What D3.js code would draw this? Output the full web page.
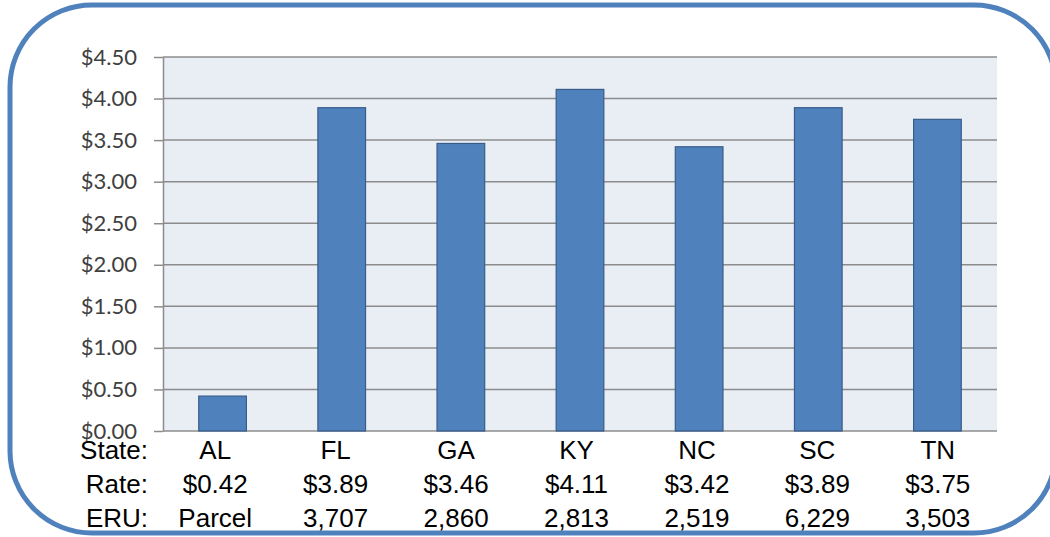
<!DOCTYPE html>
<html><head><meta charset="utf-8">
<script src="https://cdn.jsdelivr.net/npm/d3@7/dist/d3.min.js"></script>
<style>body{margin:0;background:#fff}svg{display:block}</style>
</head><body><svg id="c" width="1050" height="537"></svg>
<script>
const states = ["AL","FL","GA","KY","NC","SC","TN"];
const rates = [0.42,3.89,3.46,4.11,3.42,3.89,3.75];
const rateLabels = ["$0.42","$3.89","$3.46","$4.11","$3.42","$3.89","$3.75"];
const eru = ["Parcel","3,707","2,860","2,813","2,519","6,229","3,503"];
const yTicks = [0,0.5,1,1.5,2,2.5,3,3.5,4,4.5];
const rowLabels = ["State:","Rate:","ERU:"];

const svg = d3.select("#c");
const L=163,R=997,T=57,B=431;
const x = d3.scaleBand().domain(states).range([L,R]).paddingInner(0.6).paddingOuter(0.3);
const xt = d3.scaleBand().domain(states).range([155,998]).padding(0);
const y = d3.scaleLinear().domain([0,4.5]).range([B,T]);

svg.append("rect").attr("x",10).attr("y",5).attr("width",1046).attr("height",528)
  .attr("rx",82).attr("ry",82).attr("fill","#fff").attr("stroke","#4F81BD").attr("stroke-width",5);

svg.append("rect").attr("x",L).attr("y",T).attr("width",R-L).attr("height",B-T).attr("fill","#E9EDF4");

const yAxis = d3.axisLeft(y).tickValues(yTicks).tickSize(9).tickSizeOuter(0).tickPadding(17)
  .tickFormat(d=>"$"+d3.format(".2f")(d));
const g = svg.append("g").attr("transform",`translate(${L},0)`).call(yAxis);
g.select(".domain").attr("stroke","#8c8c8c").attr("stroke-width",1.5);
g.selectAll(".tick line").attr("stroke","#8c8c8c").attr("stroke-width",1.5);
g.selectAll(".tick text").attr("font-family","Lato, 'Open Sans', sans-serif").attr("font-size",22).attr("fill","#404040");

svg.append("g").selectAll("line").data(yTicks).join("line")
  .attr("x1",L).attr("x2",R).attr("y1",d=>y(d)).attr("y2",d=>y(d))
  .attr("stroke","#8c8c8c").attr("stroke-width",1.5);

svg.append("g").selectAll("rect").data(states).join("rect")
  .attr("x",d=>x(d)).attr("width",x.bandwidth())
  .attr("y",(d,i)=>y(rates[i])).attr("height",(d,i)=>B-y(rates[i]))
  .attr("fill","#4F81BD").attr("stroke","#385D8A").attr("stroke-width",1.2);

const rowsY=[459,493,527];
const rows=[states,rateLabels,eru];
const tf="'Liberation Sans', Arial, sans-serif";
rowLabels.forEach((lab,r)=>{
  svg.append("text").attr("x",148).attr("y",rowsY[r]).attr("text-anchor","end")
    .attr("font-family",tf).attr("font-size",26).attr("fill","#000").text(lab);
  svg.append("g").selectAll("text").data(states).join("text")
    .attr("x",d=>xt(d)+xt.bandwidth()/2).attr("y",rowsY[r]).attr("text-anchor","middle")
    .attr("font-family",tf).attr("font-size",26).attr("fill","#000")
    .text((d,i)=>rows[r][i]);
});
</script></body></html>
